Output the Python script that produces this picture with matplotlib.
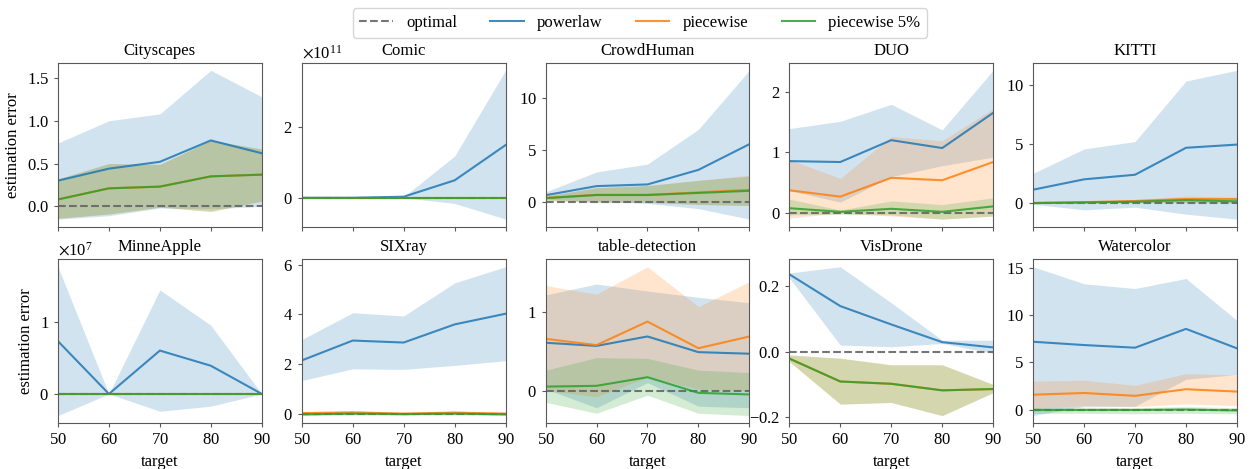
import numpy as np
import matplotlib
matplotlib.use("Agg")
from matplotlib import pyplot as plt
from matplotlib.ticker import MaxNLocator

plt.rcParams['font.family'] = ['Liberation Serif', 'DejaVu Serif']
plt.rcParams['mathtext.fontset'] = 'stix'
plt.rcParams['axes.formatter.use_mathtext'] = True
plt.rcParams['font.size'] = 12
plt.rcParams['axes.edgecolor'] = '0.35'
plt.rcParams['xtick.color'] = '0.35'
plt.rcParams['ytick.color'] = '0.35'
plt.rcParams['xtick.labelcolor'] = 'black'
plt.rcParams['ytick.labelcolor'] = 'black'
plt.rcParams['xtick.major.size'] = 3
plt.rcParams['ytick.major.size'] = 3

targets = [50, 60, 70, 80, 90]
datasets = ["Cityscapes", "Comic", "CrowdHuman", "DUO", "KITTI",
            "MinneApple", "SIXray", "table-detection", "VisDrone", "Watercolor"]
# values are in units of scale (offset shown as x10^n)
scale = [1, 1e11, 1, 1, 1, 1e7, 1, 1, 1, 1]

powerlaw_mean = [
    [0.30, 0.44, 0.52, 0.77, 0.62],
    [0.0, 0.0, 0.03, 0.49, 1.48],
    [0.68, 1.55, 1.71, 3.10, 5.55],
    [0.855, 0.84, 1.20, 1.07, 1.65],
    [1.14, 2.02, 2.41, 4.70, 4.97],
    [0.73, 0.0, 0.60, 0.39, 0.0],
    [2.14, 2.94, 2.86, 3.59, 4.02],
    [0.61, 0.57, 0.69, 0.49, 0.47],
    [0.236, 0.139, 0.083, 0.029, 0.013],
    [7.17, 6.82, 6.54, 8.53, 6.47],
]
powerlaw_lo = [
    [-0.15, -0.11, -0.02, -0.03, 0.0],
    [0.0, 0.0, 0.0, -0.16, -0.60],
    [0.3, 0.1, -0.1, -0.6, -1.6],
    [0.37, 0.18, 0.60, 0.78, 0.92],
    [-0.1, -0.57, -0.35, -0.94, -1.36],
    [-0.30, 0.0, -0.24, -0.17, 0.0],
    [1.33, 1.80, 1.78, 1.94, 2.13],
    [0.02, -0.22, 0.10, -0.20, -0.22],
    [0.225, 0.02, 0.015, 0.025, -0.005],
    [-0.64, 0.35, 0.35, 3.2, 3.7],
]
powerlaw_hi = [
    [0.74, 1.00, 1.08, 1.59, 1.28],
    [0.0, 0.0, 0.03, 1.17, 3.58],
    [1.0, 2.9, 3.65, 6.97, 12.6],
    [1.39, 1.51, 1.79, 1.37, 2.35],
    [2.53, 4.60, 5.23, 10.37, 11.28],
    [1.76, 0.0, 1.44, 0.95, 0.0],
    [2.98, 4.06, 3.93, 5.26, 5.91],
    [1.22, 1.36, 1.27, 1.19, 1.12],
    [0.24, 0.259, 0.149, 0.035, 0.035],
    [15.1, 13.3, 12.8, 13.86, 9.42],
]

piecewise_mean = [
    [0.08, 0.21, 0.23, 0.35, 0.37],
    [0.0, 0.0, 0.0, 0.0, 0.0],
    [0.42, 0.72, 0.72, 0.95, 1.2],
    [0.375, 0.27, 0.58, 0.54, 0.84],
    [0.02, 0.08, 0.18, 0.35, 0.35],
    [0.0, 0.0, 0.0, 0.0, 0.0],
    [0.02, 0.05, 0.0, 0.04, 0.0],
    [0.66, 0.58, 0.88, 0.54, 0.69],
    [-0.021, -0.091, -0.098, -0.118, -0.114],
    [1.57, 1.75, 1.45, 2.15, 1.9],
]
piecewise_lo = [
    [-0.14, -0.09, -0.01, -0.06, 0.06],
    [0.0, 0.0, 0.0, 0.0, 0.0],
    [0.2, 0.0, 0.0, -0.2, -0.3],
    [-0.08, 0.0, -0.05, -0.1, -0.05],
    [-0.05, 0.0, 0.05, 0.1, 0.1],
    [0.0, 0.0, 0.0, 0.0, 0.0],
    [-0.05, -0.02, -0.05, -0.02, -0.05],
    [0.0, -0.08, 0.17, 0.02, 0.0],
    [-0.03, -0.16, -0.155, -0.195, -0.125],
    [0.1, 0.4, 0.3, 0.6, 0.4],
]
piecewise_hi = [
    [0.32, 0.50, 0.49, 0.77, 0.67],
    [0.0, 0.0, 0.0, 0.0, 0.0],
    [0.6, 1.4, 1.6, 2.1, 2.6],
    [0.88, 0.57, 1.26, 1.19, 1.72],
    [0.1, 0.15, 0.3, 0.6, 0.5],
    [0.0, 0.0, 0.0, 0.0, 0.0],
    [0.08, 0.1, 0.05, 0.1, 0.05],
    [1.34, 1.23, 1.58, 1.07, 1.39],
    [-0.01, -0.02, -0.04, -0.04, -0.1],
    [3.0, 3.1, 2.56, 3.8, 3.65],
]

piecewise5_mean = [
    [0.08, 0.21, 0.23, 0.35, 0.37],
    [0.0, 0.0, 0.0, 0.0, 0.0],
    [0.4, 0.7, 0.7, 0.9, 1.1],
    [0.08, 0.02, 0.07, 0.02, 0.11],
    [0.0, 0.06, 0.12, 0.25, 0.15],
    [0.0, 0.0, 0.0, 0.0, 0.0],
    [-0.03, 0.0, -0.02, 0.0, -0.03],
    [0.05, 0.06, 0.17, -0.03, -0.05],
    [-0.021, -0.091, -0.098, -0.118, -0.114],
    [-0.05, -0.05, -0.05, 0.0, -0.1],
]
piecewise5_lo = [
    [-0.14, -0.09, -0.01, -0.06, 0.06],
    [0.0, 0.0, 0.0, 0.0, 0.0],
    [0.2, 0.0, 0.0, -0.2, -0.3],
    [-0.03, -0.02, -0.03, -0.1, -0.05],
    [-0.05, 0.0, 0.03, 0.05, 0.0],
    [0.0, 0.0, 0.0, 0.0, 0.0],
    [-0.08, -0.05, -0.06, -0.05, -0.08],
    [-0.15, -0.29, -0.06, -0.29, -0.32],
    [-0.03, -0.16, -0.155, -0.195, -0.125],
    [-0.4, -0.4, -0.45, -0.4, -0.45],
]
piecewise5_hi = [
    [0.32, 0.50, 0.49, 0.77, 0.67],
    [0.0, 0.0, 0.0, 0.0, 0.0],
    [0.6, 1.4, 1.6, 2.1, 2.5],
    [0.23, 0.05, 0.2, 0.14, 0.25],
    [0.08, 0.12, 0.25, 0.45, 0.3],
    [0.0, 0.0, 0.0, 0.0, 0.0],
    [0.0, 0.03, 0.01, 0.03, 0.0],
    [0.26, 0.42, 0.41, 0.26, 0.23],
    [-0.01, -0.02, -0.04, -0.04, -0.1],
    [0.2, 0.25, 0.2, 0.3, 0.2],
]

series = [
    ("powerlaw", "C0", powerlaw_mean, powerlaw_lo, powerlaw_hi),
    ("piecewise", "C1", piecewise_mean, piecewise_lo, piecewise_hi),
    ("piecewise 5%", "C2", piecewise5_mean, piecewise5_lo, piecewise5_hi),
]

fig, axes = plt.subplots(2, 5, figsize=(12.52, 4.69), dpi=100, sharex=True)
fig.subplots_adjust(left=0.0463, right=0.988, top=0.866, bottom=0.098,
                    wspace=0.196, hspace=0.2)

x = np.array(targets)
for i, name in enumerate(datasets):
    ax = axes.flat[i]
    s = scale[i]
    ax.plot(x, np.zeros(len(x)), '--', color='0.4', alpha=0.9, label='optimal')
    for lab, col, m, lo, hi in series:
        ax.plot(x, np.array(m[i]) * s, color=col, alpha=0.85, label=lab)
        ax.fill_between(x, np.array(lo[i]) * s, np.array(hi[i]) * s,
                        color=col, alpha=0.2, linewidth=0)
    ax.set_title(name, fontsize=12)
    ax.set_xlim(50, 90)
    ax.set_xticks(targets)
    ax.yaxis.set_major_locator(MaxNLocator(nbins=4, steps=[1, 2, 2.5, 5, 10]))
    if i % 5 == 0:
        ax.set_ylabel("estimation error")
    if i >= 5:
        ax.set_xlabel("target")

handles, labels = axes.flat[0].get_legend_handles_labels()
fig.legend(handles, labels, loc='upper center', ncol=4,
           bbox_to_anchor=(0.511, 1.0), fontsize=12)

fig.savefig("out.png", dpi=100)
